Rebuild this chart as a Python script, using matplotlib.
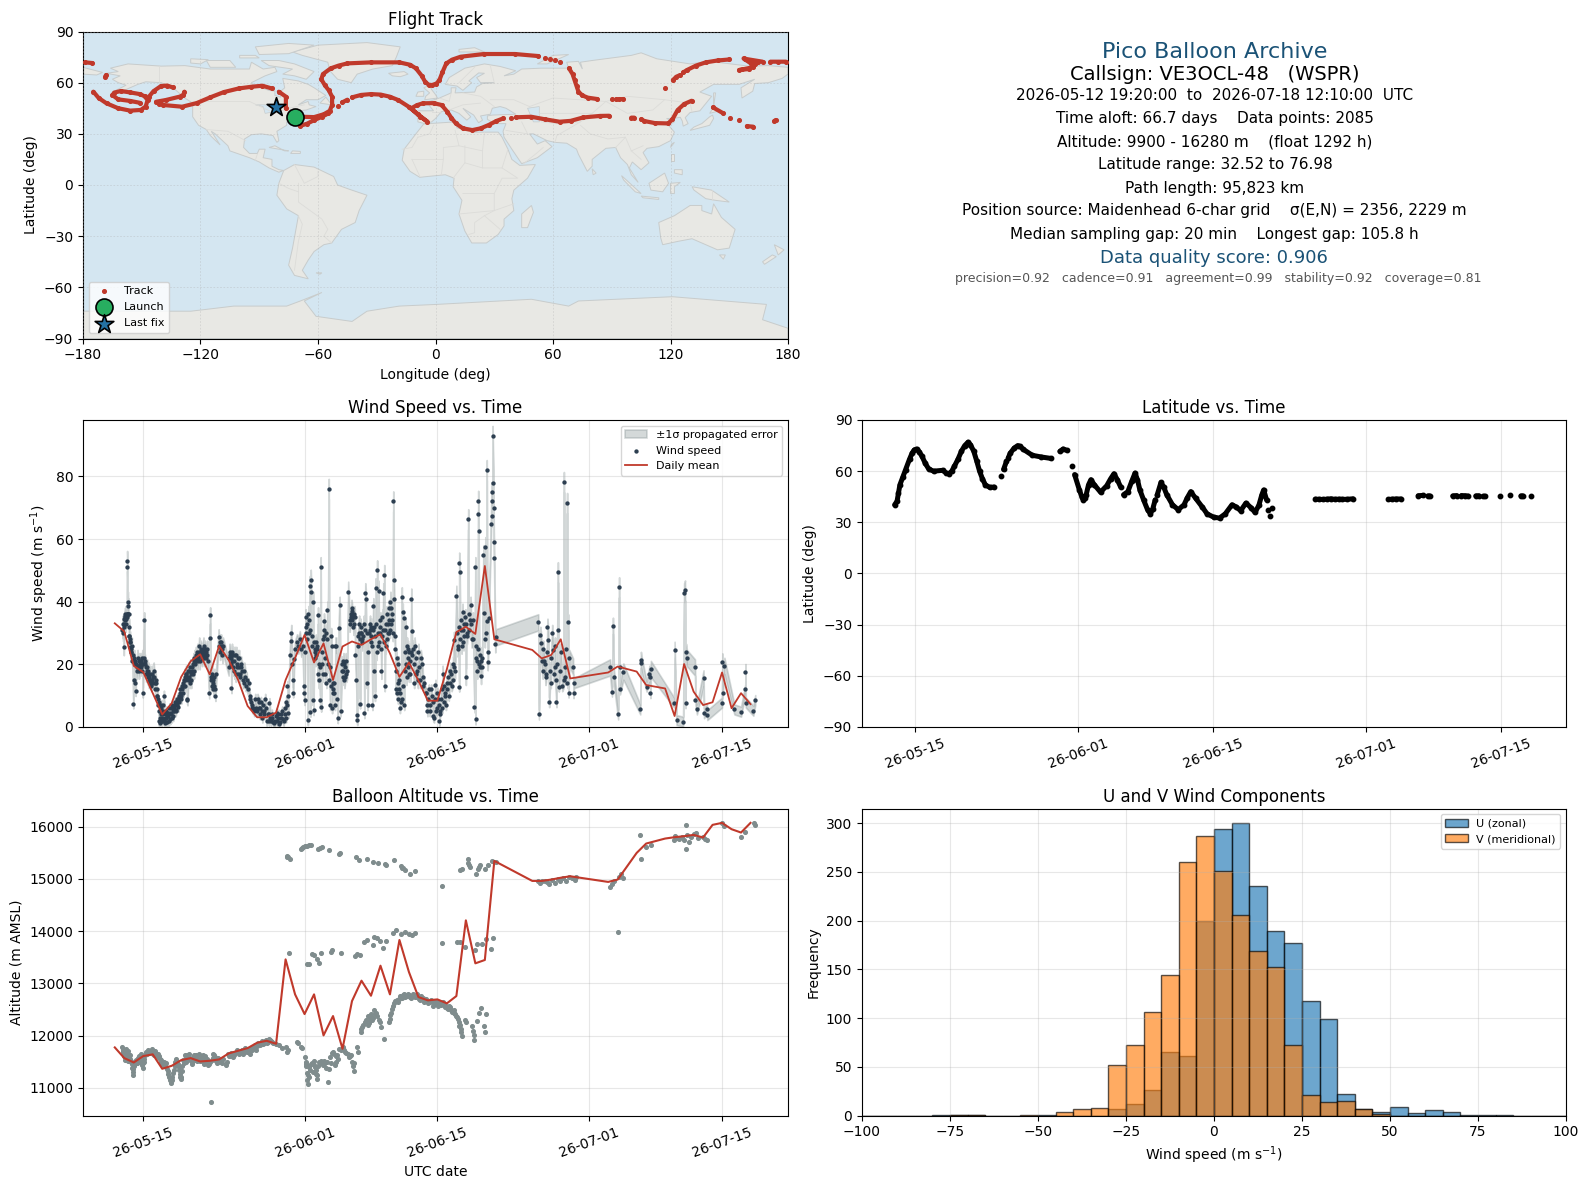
import datetime as dt
import numpy as np
import matplotlib
matplotlib.use("Agg")
import matplotlib.pyplot as plt
import matplotlib.dates as mdates
from matplotlib.patches import Patch

N = float("nan")
W, H = 1590, 1189

# ---------- map outlines (lon, lat) ----------
land_shapes = [
 [(-168,65.5),(-162,66.5),(-166,68.5),(-157,71),(-140,69.7),(-128,70),(-115,68),(-108,68),(-95,68),(-94,72),(-88,68),(-82,69),(-81,66.5),(-87,64),(-94,60),(-93,58.5),(-85,55.5),(-82,55),(-82,52.5),(-79,51.5),(-79,55),(-77,57),(-78,62.5),(-70,61),(-65,59),(-62,57),(-56,52.5),(-60,50),(-66,50),(-70,47),(-65,49),(-64.5,47),(-61,46),(-66,44),(-70,43.5),(-71,41.5),(-74,40.5),(-76,37),(-76,35),(-81,31.5),(-80,26),(-81,25),(-83,29),(-89,30),(-94,29.5),(-97.5,27),(-98,22),(-95,18.5),(-91,18.5),(-90,21),(-87,21),(-88,16),(-83.5,15),(-83.5,11),(-80,9),(-77.5,8.5),(-80,7.5),(-85,10),(-90,13.5),(-95,16),(-105,20),(-106,23),(-112.5,30),(-114.5,31.5),(-110,23.5),(-115,29),(-117,32.5),(-121,35),(-124,40),(-124,48),(-128,51),(-133,56),(-140,60),(-148,60.5),(-152,59),(-158,56),(-165,54.5),(-158,58.5),(-162,60),(-165,62),(-161,64)],
 [(-73,78),(-60,82),(-35,83.5),(-18,81),(-20,75),(-22,70),(-32,68),(-40,65),(-43,60),(-50,62),(-54,67),(-55,72),(-68,76)],
 [(-80,73),(-72,71),(-62,66.5),(-66,62),(-72,64),(-78,65),(-73,68),(-85,70),(-89,73)],
 [(-117,73),(-105,73),(-102,69),(-115,69)],
 [(-90,76.5),(-75,77),(-62,82),(-75,83),(-92,81)],
 [(-125,74),(-116,73.5),(-120,71),(-125,71.5)],
 [(-100,76),(-92,76),(-90,74.5),(-100,74.5)],
 [(-24,65.5),(-16,66.5),(-14,65),(-18,63.5),(-22,64)],
 [(-5.5,50),(1,51),(0,53),(-2,56),(-3,58.5),(-6,57),(-3,54),(-5,52)],
 [(-10,52),(-6,52),(-6,55),(-9,54.5)],
 [(-59,48),(-53,47),(-56,51.5)],
 [(-85,22),(-75,20),(-77,20),(-82,23)],
 [(-74,18.5),(-69,18.5),(-69,19.7),(-73,20)],
 [(-77.5,8.5),(-72,12),(-62,10.5),(-52,5),(-50,0),(-44,-2.5),(-35,-6),(-39,-15),(-41,-22),(-48,-26),(-53,-34),(-57,-35),(-62,-39),(-65,-44),(-68,-50),(-65,-55),(-72,-53),(-75,-47),(-73,-37),(-70,-18),(-76,-14),(-81,-6),(-80,1)],
 [(-6,35.8),(10,37),(11,33.5),(20,31),(32,31),(34,28),(37,21),(39,15),(43,11.5),(51,12),(47,4),(40,-3),(39,-8),(40,-15),(35,-20),(35,-24),(32,-29),(26,-34),(18.5,-34),(15,-27),(12,-17),(13.5,-9),(9,-1),(9.5,4),(5,6),(-4,5),(-8,4.5),(-13,8),(-17,14.5),(-16,21),(-10,30)],
 [(-9,37),(-9,43.5),(-1,43.5),(-4.5,48.5),(2,51),(8,54),(8,57),(10.5,57),(10,54),(20,54.5),(21,57.5),(24,59.5),(30,60),(23,60),(21,63),(25,65.5),(22,65.7),(17,61),(18.5,60),(14,55.5),(11,58),(5,59),(7,63),(15,68.5),(25,71),(33,69.5),(41,67),(35,64),(40,65),(44,68),(54,68.5),(68,68.5),(67,72),(73,72.5),(75,68),(74,72),(80,73),(100,76),(105,77.5),(113,74),(130,71),(140,72.5),(160,69.7),(170,70),(180,69),(180,65),(177,62.5),(170,60),(163,59.5),(162,55),(156.5,51),(156,57),(163,62),(155,59),(142,59),(135,54.5),(141,52),(135,43.5),(130,42.5),(127.5,39.5),(129,36),(126.5,34.5),(126,37.5),(125,39.7),(121,39),(118,39),(122,37),(119,35),(122,31),(120,26),(114,22.5),(108,21.5),(106,19),(109,13),(105,9),(100.5,13.5),(99,10),(103.5,1.5),(100,6),(98,12),(94.5,16),(92,22),(87,21.5),(80,15),(80,11),(77.5,8),(73,18),(72,21),(67,24.5),(61,25),(57,26),(50,30),(48,30),(52,24),(56,26),(59.5,22.5),(52,16),(44,12.5),(39,21),(35,28),(34.5,31.5),(36,36),(30,36),(26.5,38.5),(26.5,40.5),(29,41),(41,41.5),(36,45),(33,46),(29,45),(28,41.5),(23,40.5),(24,38),(22,36.5),(19.5,41),(14,45),(18,40),(16,38),(12,42),(8,44),(3,43),(0,39),(-2,37),(-5.5,36)],
 [(-180,69),(-170,66),(-173,64.5),(-180,65)],
 [(52,71),(57,71),(68,76.5),(60,76)],
 [(12,78),(25,78),(20,80.5),(12,79.5)],
 [(142,46),(143,54),(142,54)],
 [(130,32),(132,34),(136,36),(140,40),(141.5,41),(142,39),(140,35),(135,33.5)],
 [(140,42),(145,43.5),(142,45.5)],
 [(80,9.5),(82,7),(80.5,6)],
 [(120,22),(122,25),(120.5,24)],
 [(120,18),(122,18),(122,14),(120,14)],
 [(122,9),(126,9),(126,6),(122,7)],
 [(109,1),(117,7),(119,1),(116,-4),(110,-3)],
 [(95,5.5),(105,-5),(102,-4),(96,3)],
 [(105,-6.5),(114,-7.5),(114,-8.5),(106,-7.5)],
 [(120,1),(125,1.5),(122,-1),(122,-5),(120,-5)],
 [(131,-1),(141,-3),(150,-10),(143,-9),(138,-8),(132,-3)],
 [(114,-22),(122,-18),(130,-12),(136,-12),(136,-15),(141,-17),(142,-11),(146,-19),(153,-26),(150,-37),(144,-38),(138,-35),(131,-31.5),(124,-33),(116,-35),(115,-31)],
 [(145,-41),(148,-41),(147,-43.5)],
 [(173,-35),(178,-38),(175,-41)],
 [(172,-41),(174,-42),(168,-46.5),(167,-45)],
 [(49,-12),(50,-16),(47,-25),(44,-25),(44,-17)],
 [(-61,-51.5),(-58,-51.5),(-59,-52.3)],
 [(-180,-90),(-180,-74),(-125,-74),(-103,-71),(-76,-71),(-69,-68),(-58,-63),(-67,-68),(-61,-77),(-42.6,-80),(-35,-74),(-18.5,-71),(0.7,-70),(49,-67),(68,-71),(73,-68),(121,-65.5),(169,-70),(167,-79),(180,-84),(180,-90)],
]
lake_shapes = [
 [(47,45),(53,46),(53,37),(50,37)],
 [(-92,47),(-84,47),(-82,43),(-87,42),(-88,46)],
]
border_lines = [
 [(-141,70),(-141,60)],[(-124,49),(-95,49),(-82,42),(-75,45),(-67,47)],[(-117,32.5),(-106,31.5),(-97,26)],
 [(-92,14.5),(-91,18)],[(-70,-18),(-68,-23),(-70,-33),(-72,-50)],[(-70,1),(-70,-10),(-58,-20),(-55,-26),(-57,-30),(-53,-34)],
 [(-72,12),(-67,1),(-60,5),(-60,8)],[(-80,1),(-75,-2),(-70,-4)],
 [(-9,28),(-3,30),(-1,35)],[(-9,28),(-12,22),(-17,21)],[(-12,15),(4,15),(4,22),(12,23),(10,32)],[(12,23),(24,20),(25,31)],
 [(24,20),(24,10),(34,10),(37,21)],[(15,23),(15,13),(24,10)],[(4,15),(3,6)],[(-12,15),(-8,5)],[(9,4),(15,13)],[(14,-5),(30,-5),(30,-15),(12,-17)],
 [(30,-5),(34,4),(42,4),(34,10)],[(40,-11),(30,-15),(25,-18),(20,-22),(20,-28),(17,-29)],[(33,-26),(25,-18)],
 [(-2,43),(3,43)],[(2,51),(7,49),(8,54)],[(14,54),(23,52),(30,46)],[(7,44),(14,47),(23,48)],[(30,60),(28,70)],[(12,60),(20,69)],
 [(28,50),(40,50),(48,46)],[(48,46),(60,51),(87,49),(80,42),(70,42),(53,42)],[(87,49),(98,52),(117,50),(130,48),(131,43)],[(87,49),(98,42),(111,44),(117,50)],
 [(80,42),(74,37),(62,36),(54,37)],[(74,37),(62,29),(61,25)],[(74,35),(79,30),(88,27),(97,28),(92,22)],[(97,28),(100,20),(106,23)],[(100,20),(105,15)],
 [(36,32),(47,30)],[(44,37),(47,30)],[(45,12.5),(52,19),(55,22)],[(44,39),(48,39)],[(141,-3),(141,-9)],
]

# ---------- flight track (lon, lat); nan marks a break ----------
track_fixes = [
 (-68,40),(-62,39.8),(-57,41.5),(-54,43.5),(-52.8,47),(-52.8,51.8),(-54.5,55.5),(-56.5,58.5),(-58.3,62),(-57.5,65),(-53.5,68.4),(-49.5,70),(-45,71.3),(-33,71.9),(-18.5,71.9),(-13,70.5),(-10,68.4),(-7,64),(-5.3,60.5),(-3.5,58.8),(-1.7,58.6),(0.5,59.5),(2,61.5),(3.5,66),(5.5,71.3),(8.5,73.5),(12.8,75.2),(24.8,76.8),(40.5,76.8),(52.5,75.6),(N,N),
 (56,74.5),(N,N),(58.6,73.6),(N,N),(61,73),(N,N),(63.4,71.9),(N,N),(68.2,68.4),(70,65),(71,61.5),(72,58),(73,54.7),(75,52.5),(77.8,51.2),(82.6,50.4),(N,N),
 (89.9,50.2),(N,N),(92.3,50.2),(93.8,50.3),(95.9,50.4),(N,N),(117.1,56.6),(N,N),(121.2,61.5),(123,63.5),(125,64.5),(N,N),(126.5,66),(128.4,67.4),(133,70),(138,71.9),(144,73),(150,73.6),(N,N),
 (157.3,74.2),(161,71.3),(164.6,72.3),(162,69),(155,67.4),(160,68),(163,71),(N,N),(158,74),(167,72.3),(N,N),(171,72.3),(175,72.3),(179,72.3),(N,N),
 (-178.8,71.9),(-175.2,71.5),(N,N),(-168.7,63.5),(-168.2,64.5),(N,N),(-174.7,54.7),(-172,51),(-168,47.9),(-162,45),(-155.9,43.6),(-150.5,44),(-148,46),(-147,49.8),(-148.5,52),(-151,53.3),(-156,54.3),(-160.7,55.1),(-164,54.2),(-165,52.7),(-162,50.2),(-156,49.3),(-151,48.2),(N,N),
 (-146.3,51.8),(-144,55),(-140.2,58),(-137,58.3),(-134.2,57.2),(N,N),(-128.2,54.7),(-128.8,52.8),(-130.6,51.8),(-137.8,49.8),(-142.7,48.8),(-141,47.5),(-139,46.9),(-129.4,45.9),(-122,48),(-115,51.4),(-108,54.5),(-100.5,56.6),(-94,57.6),(-88.4,58.2),(-83.6,56.6),(N,N),(-80,54.7),(-76.4,51.8),(-76.4,44.9),(N,N),
 (-69.2,34.6),(-65.5,36),(-62,38),(-58,40),(-54.7,42),(N,N),(-49.9,46.3),(N,N),(-47.5,48.5),(-45,50),(N,N),(-42.6,51.4),(-38,52.8),(-33,53.3),(-28,53),(-23.4,51.8),(-19,49.8),(-13.7,45.9),(-9,41.5),(-4.1,37.1),(-7.7,40),(-12.5,44.9),(-9.5,46.8),(-6.5,47.9),(-1,48),(3.1,46.9),(6,43),(8,39.5),(10.4,36.1),(14,33.2),(18.8,32.2),(23,33.2),(27.2,35.2),(31,37.5),(34.5,39),(N,N),(38.5,39.5),(N,N),(41,39.7),(48.9,40),(56,38.5),(63.4,37.1),(69,37.6),(75.4,39.6),(84,40.5),(88.7,40.6),(N,N),
 (100,39.5),(101.5,39.5),(N,N),(105,38.5),(106.7,37.5),(112,36.3),(118.8,36.1),(121,38.5),(123.6,43.9),(127,47.5),(130.8,49.4),(N,N),(141.7,45.5),(147,42),(N,N),(150.5,39.5),(N,N),(154.9,38.1),(N,N),(159,34.5),(162.2,34.2),(N,N),(173,37.5),(173.7,38.1),
]
launch_lon, launch_lat = -72, 40
last_lon, last_lat = -81.2, 45.5

# ---------- daily means: day offset from 2026-05-15 ----------
mean_days = list(range(-3, 38)) + [41,42,43,44,45,49,50,52,53] + list(range(55, 65))
wind_mean = [33.1,30.5,19.5,17.5,10.8,4.0,7.6,16,21,23.2,16.8,25.9,21.4,15,6.7,3.1,3.1,4.6,15,22,
 29.4,20.6,26.7,15,25.7,27.3,26.2,28,29.6,23.5,16,20.6,14.8,8.4,8.4,18.5,30.3,
 32,29.7,51.4,28, 24.6,21.9,23,28,15.5, 17.4,19.3, 17.7,13.4,
 12.3,3.5,20.1,11.3,7,7.9,17.4,6,10.8,7.3]
alt_mean = [11773,11568,11485,11607,11640,11364,11421,11530,11568,11504,11517,11543,11658,11709,11760,11862,11900,11843,13458,12788,
 12411,12788,12003,12373,11747,12660,13050,12762,13337,12788,13829,13216,12737,12673,12692,12616,12756,
 14205,13382,13446,15342, 14959,14959,14985,15020,15048, 14940,14985, 15495,15674,
 15770,15796,15815,15840,15790,16032,16070,15949,15885,16070]

# ---------- wind speed readings (day offset, m/s) ----------
wind_readings = [
 (-2.2,31),(-2.12,30),(-2.05,25.5),(-2.0,33),(-1.95,34),(-1.9,35),(-1.85,33),(-1.82,35.5),(-1.78,34.5),(-1.74,36),(-1.7,53),(-1.68,51),(-1.65,36),(-1.62,40),(-1.58,38.5),(-1.55,36),(-1.5,32),(-1.45,29),(-1.4,28),(-1.35,27),(-1.28,25),(-1.2,26),(-1.12,23),(-1.05,7.5),(-1.0,15),(-0.95,22),(-0.85,14),(-0.8,11.5),(-0.75,20),(-0.65,18),(-0.6,22),(-0.5,21),(-0.4,19),(-0.3,20),(-0.2,21),(-0.1,22),(-0.05,11),(0.0,20),(0.1,34),(0.15,21),(0.25,19),(0.35,18),(0.45,17),(0.55,18),(0.65,16),(0.8,15),(0.9,17),(1.0,16),(1.1,18),(1.2,14),(1.3,15),(1.4,12),(1.5,10),(1.6,7),(1.65,2),(1.7,5),(1.78,1.2),(1.85,4),(1.92,7),(2.0,2),(2.1,5),(2.18,10),(2.25,1.4),(2.35,3),(2.45,5),(2.55,1.5),(2.65,3.5),(2.75,6),(2.85,2.5),(2.95,4),(3.05,7),(3.15,3.5),(3.25,5),(3.35,8),(3.45,5.5),(3.55,7),(3.6,9),(3.7,6.5),(3.8,10),(3.9,12),(4.0,9),(4.1,13),(4.2,11),(4.3,15),(4.35,16),(4.45,13),(4.55,17),(4.62,9),(4.66,8.5),(4.72,15),(4.8,18),(4.9,14),(5.0,17),(5.1,19),(5.2,17),(5.3,21),(5.4,22),(5.5,20),(5.6,21),(5.7,24),(5.8,22),(5.9,26),(6.0,23),(6.1,24),(6.2,22),(6.3,25),(6.4,23),(6.5,25),(6.6,24),(6.7,23),(6.8,21),(6.95,10.7),(7.0,28.3),(7.05,35.6),(7.12,16),(7.2,13),(7.3,15),(7.4,12),(7.5,16),(7.6,9.9),(7.7,17),(7.95,28.6),(8.0,26),(8.1,24),(8.2,27),(8.3,25),(8.4,26),(9.0,19),(9.1,24),(9.2,22),(9.3,12.4),(9.4,21),(9.5,23),(9.6,18),(9.8,23),(9.9,20),(10.0,17),(10.1,22),(10.2,16),(10.35,19),(10.5,15),(10.65,18),(10.8,13),(11.0,12),(11.2,10),(11.35,8),(11.5,6),(11.7,5),(11.9,6),(12.05,9),(12.2,6),(12.3,4),(12.4,8),(12.55,3),(12.7,5),(12.85,9),(13.0,2),(13.2,4),(13.3,7.6),(13.45,2),(13.6,3),(13.8,1.2),(13.95,3.5),(14.1,2),(14.25,4),(14.4,1.5),(14.5,3),(14.65,5),(14.8,2),(14.95,6),(15.05,3),(15.2,7),(15.3,4.5),
 (15.05,8),(15.2,13),(15.3,10),(15.45,23),(15.55,27.5),(15.6,30),(15.7,20),(15.75,15),(15.8,11),(15.9,21.6),(16.0,25),(16.2,27),(16.35,26),(16.5,28),(16.65,25),(16.8,26),(16.9,13),(16.95,10.8),(17.0,8.6),(17.05,24),(17.12,35),(17.2,30),(17.28,33),(17.35,2.2),(17.4,36),(17.45,30),(17.55,45),(17.62,4.9),(17.65,47),(17.7,43),(17.78,29),(17.85,8.6),(17.9,40),(17.95,5.4),(18.0,27),(18.1,25),(18.2,23),(18.3,26),(18.4,17),(18.42,35.6),(18.5,15),(18.6,19),(18.65,8.5),(18.7,51),(18.75,6.5),(18.85,20),(18.95,28),(19.05,33.7),(19.15,17),(19.25,30),(19.3,14),(19.4,37.4),(19.45,20),(19.55,76),(19.6,15),(19.7,7),(19.8,29),(19.9,6),(20.0,14),(20.1,11),(20.2,7),(20.35,26),(20.5,2.8),(20.6,31.5),(20.7,39),(20.8,5),(20.9,18),(21.0,16),(21.1,21),(21.2,15),(21.3,19),(21.4,17),(21.6,43.2),(21.75,33),(21.85,36),(21.95,38),(22.05,34),(22.15,32),(22.25,36),(22.35,23),(22.45,15),(22.5,3.8),(22.55,2.2),(22.65,29),(22.75,33),(22.85,7.5),(22.95,30),(23.05,27),(23.2,29),(23.3,4.4),(23.4,42.7),(23.45,41),(23.55,14),(23.65,7),(23.75,30),(23.9,33),(24.0,27),(24.15,7),(24.25,38.5),(24.3,18),(24.35,32),(24.42,9.9),(24.5,44.3),(24.65,50),(24.7,26),(24.8,43.5),(24.9,30),(25.05,25),(25.1,18),(25.2,35),(25.3,42.7),(25.4,48.5),(25.45,13),(25.6,33),(25.75,30),(25.9,38),(26.05,40),(26.15,33),(26.3,30),(26.35,72),(26.38,47),(26.45,41),(26.55,25),(26.6,12),(26.7,22),(26.75,10.7),(26.85,9),(26.95,15),(27.05,6),(27.15,8),(27.25,41.4),(27.35,36.8),(27.45,34.7),(27.55,18),(27.65,32),(27.75,16),(27.85,22),(27.95,19),(28.05,24),(28.15,17),(28.25,41),(28.3,30.5),(28.45,25),(28.55,14),(28.7,22),(28.85,18),(29.0,24),(29.2,15),(29.35,20),(29.5,13),(29.75,11),(29.9,7),(30.05,9),(30.2,5),(30.35,12),(30.5,8),(30.65,3),(30.8,13.5),(30.95,6),(31.1,9),(31.2,2),(31.3,5),(31.45,12),(31.55,17),(31.7,8),(31.85,11),(32.0,14),(32.2,10),(32.35,18),(32.5,13),(32.65,20),(32.75,27.8),(32.85,18),(33.0,41.9),(33.1,30),(33.2,26),(33.3,12.9),(33.3,52.5),(33.35,49.6),(33.5,31),(33.65,36.8),(33.75,27),(33.85,33),(34.0,16),(34.1,29),(34.25,66.3),(34.35,31),(34.5,39),(34.6,28),(34.75,34),(34.9,6.3),(35.0,51),(35.02,2.4),(35.1,22),(35.2,18),(35.3,72.2),(35.32,68),(35.34,62.5),(35.4,20),(35.5,23),(35.6,16.3),(35.7,19),(35.85,54.8),(35.95,36.3),(36.05,57.4),(36.2,82),(36.25,33.7),(36.3,20.7),(36.4,34.7),(36.65,64.9),(36.72,75),(36.75,72.2),(36.78,67.2),(36.82,92.9),(36.9,77.9),(36.92,69.9),(36.95,59),(36.97,53.9),(37.1,26.4),(37.15,28.6),
 (41.63,33.4),(41.7,4),(41.85,29.4),(41.95,26.7),(42.1,18),(42.25,21),(42.4,16),(42.6,32),(42.7,27.8),(42.78,7.9),(42.9,18),(43.1,30),(43.2,24.6),(43.35,19.3),(43.55,7.9),(43.7,49.4),(43.75,31),(43.8,12.9),(44.3,15),(44.33,78.2),(44.67,71.5),(44.78,33.4),(44.82,11),(45.3,19.3),(45.35,10.8),(45.4,14),
 (49.2,19),(49.4,11.3),(49.5,32.3),(49.6,16),(50.05,4),(50.15,44.6),(50.2,19.3),(50.25,12),(50.6,17.7),(52.38,5.6),(52.45,21.4),(52.5,20.3),(53.05,12.9),(53.35,17),(53.42,16),(53.45,10.8),(53.5,18.5),(55.95,7.8),(56.0,24.6),(56.2,2.2),(56.9,1.7),(57.0,42.7),(57.1,43.6),(57.15,7.6),(57.2,24),(57.3,22),(58.15,19),(58.2,8.6),(58.35,5.6),(59.05,15.5),(59.1,4.4),(59.4,5.6),(59.45,3.8),(61.0,7.8),(61.03,20.9),(61.05,10.8),(61.25,19.5),(62.3,5.6),(63.0,4.9),(63.45,12),(63.47,17.5),(63.5,7.8),(64.3,5.2),(64.5,8.6),
]
wind_readings_dense = [
 (-2.15,33),(-2.08,32),(-1.98,34.5),(-1.92,35.5),(-1.88,36),(-1.8,35),(-1.76,36),(-1.72,35),(-1.6,36),(-1.52,29),(-1.42,27),(-1.38,25.5),(-1.32,24),(-1.25,24),(-1.15,21),(-0.92,20),(-0.88,21),(-0.7,19),(-0.55,19.5),(-0.45,18),(-0.35,21),(-0.25,19),(-0.15,20),(-0.08,18),(0.05,22),(0.2,20),(0.3,17),(0.4,19),(0.5,16),(0.6,15),(0.7,17),(0.75,14),(0.85,13),(0.95,15),(1.05,14),(1.15,16),(1.25,12),(1.35,14),(1.45,10),(1.55,9),(1.62,8),(1.72,3),(1.82,6),(1.88,2),(1.95,4),(2.05,7),(2.12,3),(2.22,2),(2.3,4),(2.4,1.5),(2.5,3.5),(2.6,4.5),(2.7,2),(2.8,4.5),(2.9,6),(3.0,3),(3.1,5),(3.2,6),(3.3,7),(3.4,5),(3.5,8),(3.65,9),(3.75,8),(3.85,11),(3.95,10),(4.05,12),(4.15,14),(4.25,13),(4.4,15),(4.5,17),(4.6,16),(4.75,18),(4.85,16),(4.95,19),(5.05,15),(5.15,18),(5.25,20),(5.35,18),(5.45,21),(5.55,23),(5.65,22),(5.75,21),(5.85,24),(5.95,21),(6.05,25),(6.15,23),(6.25,24),(6.35,26),(6.45,22),(6.55,24),(6.65,22),(6.75,25),(7.15,15),(7.25,17),(7.35,14),(7.45,13),(7.55,12),(8.05,27),(8.15,25),(8.25,26),(8.35,23),(9.05,22),(9.15,23),(9.25,20),(9.35,24),(9.45,19),(9.55,21),(9.65,23),(9.75,17),(9.85,19),(9.95,22),(10.05,19),(10.15,17),(10.3,20),(10.45,18),(10.6,14),(10.75,16),(10.9,15),(11.1,14),(11.25,9),(11.45,7),(11.6,6),(11.8,9),(12.0,5),(12.15,8),(12.35,6),(12.5,5),(12.65,7),(12.75,4),(12.95,6),(13.1,4),(13.25,2),(13.4,3),(13.55,4),(13.7,1.5),(13.9,2),(14.05,4.5),(14.2,3),(14.35,1),(14.55,4),(14.7,2.5),(14.9,4),
 (29.85,11),(29.95,5),(30.1,12),(30.25,7),(30.4,10),(30.55,3.5),(30.7,9),(30.85,5),(31.0,11),(31.15,7),(31.25,4),(31.35,9),(31.5,6),(31.65,13),(31.75,10),(31.9,7),(32.05,12),(32.15,16),(32.3,14),(32.45,17),(32.6,15),(32.7,19),
 (17.15,32),(17.25,28),(17.5,34),(17.6,31),(17.75,26),(18.05,24),(18.15,22),(18.25,27),(18.35,25),(18.55,20),(18.8,24),(18.9,17),(19.0,29),(19.1,31),(19.2,22),(19.35,28),(19.65,19),(19.75,13),(19.85,26),(19.95,11),(20.05,12),(20.15,14),(20.25,26),(20.45,9),(20.95,20),(21.05,18),(21.15,20),(21.25,16),(21.35,21),(21.5,18),(21.8,34),(21.9,35),(22.0,37),(22.1,35),(22.2,33),(22.3,35),(22.6,26),(22.7,30),(22.8,28),(22.9,32),(23.0,30),(23.1,28),(23.25,33),(23.35,31),(23.6,30),(23.7,24),(23.85,31),(23.95,29),(24.05,32),(24.1,26),(24.2,31),(24.4,29),(24.55,33),(24.6,24),(24.75,30),(24.85,27),(24.95,32),(25.0,34),(25.15,29),(25.25,31),(25.35,27),(25.5,31),(25.55,26),(25.65,36),(25.7,28),(25.8,33),(25.85,30),(25.95,34),(26.0,31),(26.1,38),(26.2,36),(26.25,34),(26.5,29),(26.65,18),(26.8,14),(26.9,20),(27.0,12),(27.1,11),(27.3,9),(27.4,13),(27.5,7),(27.6,24),(27.7,20),(27.8,26),(27.9,25),(28.0,17),(28.1,21),(28.2,24),(28.35,23),(28.5,20),(28.6,26),(28.75,17),(28.95,15),(29.1,19),(29.25,22),(29.45,16),(29.6,14),
 (33.15,25),(33.25,32),(33.4,28),(33.45,34),(33.55,26),(33.7,31),(33.8,29),(33.95,35),(34.05,33),(34.15,30),(34.3,36),(34.45,34),(34.55,33),(34.7,28),(35.05,26),(35.15,21),(35.25,25),(35.45,19),(35.55,21),(35.65,22),(36.0,28),(36.15,30),(36.35,24),
 (42.0,21),(42.15,25),(42.3,20),(42.45,17),(42.55,24),(42.95,14),(43.0,22),(43.25,17),(43.4,26),(43.45,15),(43.6,20),(43.9,18),(44.0,24),(44.15,13),(44.4,19),(44.5,16),(44.6,25),(44.7,14),(44.9,22),
]
# error half-width by speed class
sigma_speed_edges = [15, 40]
sigma_levels = [1.6, 2.6, 3.2]

# ---------- latitude readings (day offset, deg); nan marks a break ----------
lat_readings = [
 (-2.15,40.3),(-1.9,42.3),(-1.75,47),(-1.6,52),(-1.3,56.5),(-1,60.9),(-0.6,67),(-0.33,70.6),(-0.1,72.5),(0.14,73),(0.4,71.5),(0.7,68.7),(1.05,64.5),(1.4,61.3),(1.9,60),(2.87,60.5),(3.2,59),(3.5,58.5),(3.8,60),(4.07,62.8),(4.45,67),(4.8,71.6),(5.15,75),(5.5,77),(5.75,75.5),(6.1,71.6),(6.4,66),(6.7,60),(7.0,55.5),(7.3,52),(7.75,50.5),(8.2,50.7),(N,N),
 (8.9,57),(N,N),(9.2,61),(9.5,65.7),(N,N),(9.7,68),(9.9,70.6),(10.3,73.5),(10.67,75),(10.95,74.5),(11.2,73),(12.2,69.3),(13.15,68.3),(14.1,67.5),(N,N),
 (15.07,71.6),(15.4,73),(15.8,72.2),(N,N),(16.3,63.2),(N,N),(16.6,58),(17.1,49),(17.35,45),(17.5,43.2),(17.65,44),(17.8,46),(18.05,52),(18.3,55),(18.66,52),(19.3,47.7),(19.95,51.5),(20.35,55.5),(20.7,58.5),(21.05,55),(21.4,50.7),(N,N),
 (21.7,46.2),(22.15,48),(22.55,54),(22.9,58.9),(23.15,55),(23.4,49),(23.8,43),(24.2,37.4),(24.5,35),(24.75,38),(25,43.2),(N,N),(25.2,46),(25.6,53.4),(25.9,50.5),(26.2,46.2),(26.8,40.3),(27.4,37.4),(28,40.3),(28.35,44.5),(28.7,48),(29.2,44.2),(29.9,39),(30.4,35),(31.1,33),(31.7,32.5),(32.3,35),(33,40.3),(33.45,39),(33.9,36.8),(34.45,41.3),(35,38.5),(35.4,35.8),(35.8,40),(36.1,46),(36.3,49),(36.6,43.2),(N,N),
 (36.75,37.4),(N,N),(36.95,33.9),(N,N),(37.2,38.4),(N,N),
 (41.7,43.6),(42.1,43.5),(42.5,43.4),(42.9,43.6),(43.3,43.8),(43.7,43.5),(44.1,43.6),(44.5,43.5),(45,43.5),(45.6,43.8),(N,N),
 (49.3,43.4),(49.7,43.6),(50.1,43.7),(50.6,43.7),(N,N),(52.4,45.6),(52.9,45.8),(N,N),(53.4,45.5),(53.6,45.5),(N,N),(56,45.5),(56.4,45.7),(N,N),(56.9,45.7),(57.3,45.6),(57.6,45.4),(N,N),(58.4,45.5),(58.7,45.6),(N,N),(59.2,45.3),(59.4,45.3),(N,N),
 (60.9,45.3),(N,N),(62,46),(N,N),(63.1,45.5),(63.3,45.5),(N,N),(64.2,45.4),
]

# ---------- altitude readings (day offset, m AMSL) ----------
alt_readings = [
 (-2.2,11790),(-2.15,11740),(-2.1,11680),(-2.0,11640),(-1.9,11580),(-1.85,11740),(-1.75,11660),(-1.7,11560),(-1.6,11700),(-1.55,11620),(-1.45,11540),(-1.35,11620),(-1.25,11500),(-1.15,11380),(-1.1,11300),(-1.05,11250),(-1.0,11420),(-0.9,11500),(-0.8,11530),(-0.7,11470),(-0.6,11570),(-0.5,11500),(-0.4,11600),(-0.3,11550),(-0.2,11640),(-0.1,11430),(0,11380),(0.1,11560),(0.25,11680),(0.45,11700),(0.6,11660),(0.75,11710),(0.9,11740),(1.05,11650),(1.25,11700),(1.45,11620),(1.6,11640),(1.75,11560),(1.9,11500),(2.05,11440),(2.2,11500),(2.35,11470),(2.5,11360),(2.65,11260),(2.8,11150),(2.95,11090),(3.05,11200),(3.2,11350),(3.35,11500),(3.5,11560),(3.65,11460),(3.8,11340),(3.9,11200),(4.0,11170),(4.1,11420),(4.2,11540),(4.35,11620),(4.5,11500),(4.65,11580),(4.8,11650),(5.0,11560),(5.15,11460),(5.35,11620),(5.5,11580),(5.7,11520),(5.85,11640),(6.05,11600),(6.2,11510),(6.4,11450),(6.55,11600),(6.7,11560),(6.85,11430),(7.0,11500),(7.1,10725),(7.2,11540),(7.35,11640),(7.55,11580),(7.75,11480),(7.9,11570),(8.1,11530),(8.3,11470),(8.7,11440),(8.9,11640),(9.1,11610),(9.3,11660),(9.5,11580),(9.7,11660),(9.9,11720),(10.1,11640),(10.3,11700),(10.5,11640),(10.7,11760),(10.9,11680),(11.1,11740),(11.3,11650),(11.5,11720),(11.7,11790),(11.9,11730),(12.1,11860),(12.3,11810),(12.5,11890),(12.7,11860),(12.9,11920),(13.1,11880),(13.3,11930),(13.5,11890),(13.7,11850),(14.0,11840),(14.3,11810),
 (14.6,11770),(15.0,11780),(15.1,11690),(15.3,11730),(16.2,11880),(16.3,11850),(16.6,11790),(16.7,11760),(17.0,11590),(17.1,11500),(17.2,11420),(17.25,11280),(17.3,11150),(17.4,11080),(17.5,11400),(17.6,11350),(17.8,11480),(17.95,11520),(18.1,11400),(18.25,11270),(18.3,11170),(18.5,11500),(18.7,11520),(18.9,11440),(19.0,11520),(19.5,11120),(19.6,11360),(19.8,11480),(19.9,11660),(20.05,11680),(20.2,11430),(20.35,11600),(20.5,11560),(20.8,11720),(21.0,11780),(21.2,11720),(21.4,11660),(21.7,11590),(21.9,11620),(22.2,11330),(22.25,11480),(22.5,11780),(22.6,11680),(22.9,12060),(23.0,12130),(23.1,12170),(23.5,12300),(23.7,12200),(23.9,12290),(24.05,12420),(24.2,12330),(24.35,12480),(24.55,12430),(24.8,12300),(25.05,12160),(25.4,11940),(25.85,12260),(26.05,12320),(26.15,12440),(26.3,12560),(26.4,12620),(26.6,12670),(26.85,12640),(27.1,12750),(27.3,12710),(27.5,12790),(27.75,12760),(28.0,12770),(28.25,12710),(28.45,12800),(28.65,12730),(28.9,12790),(29.1,12700),(29.3,12750),(29.55,12650),(29.8,12700),(30.05,12620),(30.3,12680),(30.55,12570),(30.75,12650),(30.95,12640),(31.2,12600),(31.4,12580),(31.6,12640),(31.85,12550),(32.1,12500),(32.3,12540),(32.55,12450),(32.8,12490),(33.0,12370),(33.15,12310),(33.3,12180),(33.45,12130),(33.6,11990),(33.9,12290),(34.0,12250),(34.65,12190),(34.8,12090),(34.85,11920),(34.9,12010),(35.2,12280),(35.35,12440),(35.6,12530),(35.95,12190),(36.0,12070),(36.1,12410),
 (15.1,15436),(15.3,15410),(15.5,15378),(16.6,15577),(16.8,15609),(17.3,15630),(17.7,15640),(18.4,15577),(18.8,15600),(19.6,15545),(20.65,15468),(22.4,15410),(22.75,15352),(23.55,15370),(24.25,15320),(24.75,15308),(25.5,15275),(26.4,15365),(27.2,15237),(27.6,15173),(28.1,15096),(28.6,15141),(31.5,14865),(33.4,15160),(33.6,15192),(34.2,15370),(34.4,15224),(35.1,15096),(35.25,15192),(35.5,15256),(36.0,15190),(36.3,15256),(36.8,15340),(37.15,15330),
 (15.2,15420),(16.7,15590),(17.0,15620),(17.5,15650),(18.6,15590),(20.7,15490),(25.6,15260),(27.3,15210),(27.4,15200),(34.25,15300),(34.3,15260),(35.4,15230),
 (15.35,13585),(17.25,13375),(17.45,13365),(17.75,13560),(18.0,13550),(18.35,13460),(18.55,13390),(18.7,13585),(19.75,13600),(19.9,13630),(20.87,13580),(22.3,13520),(22.55,13560),(22.8,13540),(23.3,13790),(23.6,13830),(24.3,13885),(24.65,13860),(24.25,13730),(24.9,13810),(25.3,13680),(25.6,13810),(26.35,13960),(26.65,14020),(27.2,13945),(27.6,13990),(28.0,13945),(28.35,13930),(28.65,13960),
 (31.5,13770),(33.1,13785),(33.4,13785),(33.9,13695),(34.95,13645),(35.15,13745),(35.75,13745),(36.1,13840),(36.7,13660),(36.9,13865),
 (41.6,14960),(41.8,14920),(42.0,14950),(42.3,14960),(42.5,14930),(42.8,14900),(43.1,14970),(43.4,14920),(43.7,15000),(43.95,14960),(44.2,15010),(44.6,14960),(44.9,15040),(45.2,15020),(45.45,14980),(45.6,15040),
 (49.2,14840),(49.35,14900),(49.6,14950),(50.05,13985),(50.1,15040),(50.3,15100),(50.55,15020),(52.4,15846),(52.5,15385),(53.0,15610),(53.5,15640),
 (55.9,15750),(56.0,15820),(56.2,15780),(56.5,15770),(56.8,15800),(57.0,15740),(57.2,16025),(57.25,15577),(57.3,15840),(57.5,15700),(57.7,15800),(58.0,15850),(58.3,15880),(58.5,15780),(59.0,15800),(59.2,15760),(59.4,15740),(61.0,16060),(61.2,16010),(63.0,15800),(63.45,15900),(64.35,16070),(64.5,16030),
]
alt_readings_dense = [
 (-2.12,11700),(-2.02,11600),(-1.92,11540),(-1.8,11600),(-1.65,11520),(-1.5,11590),(-1.4,11560),(-1.3,11520),(-1.2,11450),(-1.12,11360),(-0.95,11450),(-0.85,11480),(-0.75,11520),(-0.65,11480),(-0.55,11530),(-0.45,11560),(-0.35,11500),(-0.25,11600),(-0.15,11520),(-0.05,11470),(0.05,11500),(0.18,11620),(0.35,11640),(0.55,11720),(0.68,11700),(0.85,11680),(1.0,11700),(1.15,11620),(1.35,11650),(1.55,11590),(1.7,11600),(1.85,11540),(2.0,11480),(2.15,11450),(2.3,11420),(2.45,11400),(2.6,11320),(2.75,11200),(2.88,11120),(3.0,11150),(3.15,11280),(3.3,11420),(3.45,11520),(3.6,11500),(3.75,11400),(3.85,11260),(3.95,11210),(4.05,11320),(4.25,11480),(4.45,11560),(4.6,11620),(4.75,11600),(4.9,11530),(5.1,11500),(5.25,11590),(5.45,11530),(5.6,11620),(5.8,11560),(5.95,11520),(6.15,11570),(6.3,11620),(6.5,11530),(6.65,11480),(6.8,11520),(6.95,11450),(7.3,11570),(7.45,11620),(7.65,11520),(7.85,11500),(8.0,11550),(8.2,11500),(8.4,11560),(8.8,11500),(9.0,11600),(9.2,11650),(9.4,11620),(9.6,11620),(9.8,11690),(10.0,11680),(10.2,11660),(10.4,11720),(10.6,11690),(10.8,11700),(11.0,11720),(11.2,11700),(11.4,11760),(11.6,11760),(11.8,11820),(12.0,11800),(12.2,11840),(12.4,11860),(12.6,11840),(12.8,11900),(13.0,11860),(13.2,11890),(13.4,11910),(13.6,11870),
 (17.15,11460),(17.35,11240),(17.45,11200),(17.7,11460),(17.85,11300),(18.0,11440),(18.2,11350),(18.35,11240),(18.45,11420),(18.65,11470),(18.8,11500),(19.1,11460),(19.25,11380),(19.4,11500),(19.7,11580),(20.1,11650),(20.3,11500),(20.45,11620),(20.65,11740),(20.9,11750),(21.1,11750),(21.3,11680),(21.55,11640),(21.8,11600),(22.05,11500),(22.15,11420),
 (23.2,12200),(23.35,12250),(23.65,12380),(23.8,12240),(24.0,12350),(24.15,12300),(24.45,12420),(24.65,12380),(24.9,12250),(26.0,12400),(26.25,12500),(26.5,12660),(26.75,12680),(27.0,12700),(27.2,12740),(27.4,12770),(27.6,12740),(27.9,12790),(28.1,12730),(28.35,12760),(28.55,12760),(28.8,12730),(29.0,12750),(29.2,12680),(29.45,12720),(29.7,12680),(29.95,12660),(30.2,12640),(30.4,12660),(30.65,12620),(30.85,12600),(31.05,12560),(31.3,12620),(31.5,12600),(31.75,12590),(32.0,12520),(32.2,12560),(32.45,12480),(32.7,12430),(32.9,12420),(33.1,12350),(33.25,12250),(33.4,12200),(33.5,12060),
]

# ---------- histogram counts per 5 m/s bin (left edge) ----------
bin_edges = list(range(-100, 100, 5))
u_counts = {-80:1,-75:1,-70:1,-50:1,-30:7,-25:11.5,-20:26.5,-15:65,-10:61,-5:199.5,0:293.5,5:300,10:235,15:189,20:177,25:117,30:99.5,35:22.5,40:7,45:3.4,50:9,55:3,60:6,65:4,70:1,75:1,80:1}
v_counts = {-75:1,-70:1,-55:1,-45:4,-40:7,-35:7.5,-30:52,-25:72,-20:106,-15:144,-10:260,-5:287,0:251,5:206,10:169,15:152,20:72,25:21,30:14,35:15,40:7,45:2}

title_lines = ["Pico Balloon Archive", "Callsign: VE3OCL-48   (WSPR)", "2026-05-12 19:20:00  to  2026-07-18 12:10:00  UTC",
 "Time aloft: 66.7 days    Data points: 2085", "Altitude: 9900 - 16280 m    (float 1292 h)", "Latitude range: 32.52 to 76.98",
 "Path length: 95,823 km", "Position source: Maidenhead 6-char grid    σ(E,N) = 2356, 2229 m", "Median sampling gap: 20 min    Longest gap: 105.8 h",
 "Data quality score: 0.906", "precision=0.92   cadence=0.91   agreement=0.99   stability=0.92   coverage=0.81"]

RED = "#c0392b"; NAVY = "#2c3e50"; GREY = "#7f8c8d"; BLUE = "#1a5276"

def make_axes(x0, x1, y0, y1):
    return fig.add_axes([x0 / W, 1 - y1 / H, (x1 - x0) / W, (y1 - y0) / H])

base = mdates.date2num(dt.datetime(2026, 5, 15))
def days(seq):
    return base + np.asarray(seq, dtype=float)

fig = plt.figure(figsize=(W / 100, H / 100), dpi=100)
L0, L1, R0, R1 = 83, 788, 862, 1566
ax_map = make_axes(L0, L1, 31.5, 338.5)
ax_wind = make_axes(L0, L1, 420, 727)
ax_alt = make_axes(L0, L1, 808.5, 1115.5)
ax_lat = make_axes(R0, R1, 420, 727)
ax_hist = make_axes(R0, R1, 808.5, 1115.5)

# map
ax_map.set_facecolor("#d4e6f1")
for shape in land_shapes:
    xs, ys = zip(*shape)
    ax_map.fill(xs, ys, facecolor="#e8e8e4", edgecolor="#c8cccc", lw=0.7, zorder=1)
for shape in lake_shapes:
    xs, ys = zip(*shape)
    ax_map.fill(xs, ys, facecolor="#d4e6f1", edgecolor="#c8cccc", lw=0.5, zorder=1.1)
for line in border_lines:
    xs, ys = zip(*line)
    ax_map.plot(xs, ys, color="#dcdcd9", lw=0.6, zorder=1.2)
track_lon = [p[0] for p in track_fixes]; track_lat = [p[1] for p in track_fixes]
ax_map.plot(track_lon, track_lat, color=RED, lw=3.0, zorder=3, solid_capstyle="round", solid_joinstyle="round")
ax_map.scatter(track_lon, track_lat, s=7, color=RED, zorder=3, label="Track")
ax_map.scatter([launch_lon], [launch_lat], s=150, color="#27ae60", edgecolor="k", lw=1.2, zorder=5, label="Launch")
ax_map.scatter([last_lon], [last_lat], s=200, marker="*", color="#2471a3", edgecolor="k", lw=1.2, zorder=6, label="Last fix")
ax_map.set_xlim(-180, 180); ax_map.set_ylim(-90, 90)
ax_map.set_xticks(range(-180, 181, 60)); ax_map.set_yticks(range(-90, 91, 30))
ax_map.set_xticklabels(["\u2212180","\u2212120","\u221260","0","60","120","180"])
ax_map.set_yticklabels(["\u221290","\u221260","\u221230","0","30","60","90"])
ax_map.grid(True, alpha=0.4, lw=0.6, ls=(0, (2, 2)))
ax_map.set_axisbelow(False)
ax_map.set_xlabel("Longitude (deg)"); ax_map.set_ylabel("Latitude (deg)")
ax_map.set_title("Flight Track", fontsize=12, pad=5)
ax_map.legend(loc="lower left", fontsize=8, labelspacing=0.55)

# info panel
ys = [51.7, 75, 96, 119, 142.4, 165, 188.4, 211, 234, 258.4, 279]
xs = [1215, 1215, 1215, 1215, 1215, 1215, 1215, 1214, 1214, 1214, 1218.5]
sizes = [16, 14, 11, 11, 11, 11, 11, 11, 11, 13, 9]
colors = [BLUE, "k", "k", "k", "k", "k", "k", "k", "k", BLUE, "#555555"]
for txt, x, y, fs, col in zip(title_lines, xs, ys, sizes, colors):
    fig.text(x / W, 1 - y / H, txt, fontsize=fs, color=col, ha="center", va="center")

# wind
wind = sorted(wind_readings + wind_readings_dense, key=lambda r: r[0])
wt = days([r[0] for r in wind]); wv = np.array([r[1] for r in wind], dtype=float)
ws = np.array(sigma_levels)[np.digitize(wv, sigma_speed_edges)]
ax_wind.fill_between(wt, np.maximum(wv - ws, 0), wv + ws, facecolor=GREY, edgecolor=GREY, alpha=0.33, lw=1.2, label="\u00b11\u03c3 propagated error")
ax_wind.scatter(wt, wv, s=4.5, color=NAVY, zorder=3, label="Wind speed")
ax_wind.plot(days(mean_days), wind_mean, color=RED, lw=1.3, zorder=4, label="Daily mean")
ax_wind.set_ylim(0, 98)
ax_wind.set_ylabel("Wind speed (m s$^{-1}$)")
ax_wind.set_title("Wind Speed vs. Time", fontsize=12, pad=5)
ax_wind.legend(loc="upper right", fontsize=8)

# latitude
lat_t = [p[0] for p in lat_readings]; lat_v = [p[1] for p in lat_readings]
ax_lat.plot(days(lat_t), lat_v, color="k", lw=3.6, marker="o", ms=3.2, solid_capstyle="round", solid_joinstyle="round", zorder=3)
ax_lat.set_ylim(-90, 90); ax_lat.set_yticks(range(-90, 91, 30))
ax_lat.set_yticklabels(["\u221290","\u221260","\u221230","0","30","60","90"])
ax_lat.set_ylabel("Latitude (deg)")
ax_lat.set_title("Latitude vs. Time", fontsize=12, pad=5)

# altitude
alt_all = alt_readings + alt_readings_dense
at = days([r[0] for r in alt_all]); av = [r[1] for r in alt_all]
ax_alt.scatter(at, av, s=7, color=GREY, zorder=3)
ax_alt.plot(days(mean_days), alt_mean, color=RED, lw=1.5, zorder=4)
ax_alt.set_ylim(10470, 16345)
ax_alt.set_yticks(range(11000, 16001, 1000))
ax_alt.set_ylabel("Altitude (m AMSL)")
ax_alt.set_xlabel("UTC date")
ax_alt.set_title("Balloon Altitude vs. Time", fontsize=12, pad=5)

# histogram
u_h = [u_counts.get(e, 0) for e in bin_edges]
v_h = [v_counts.get(e, 0) for e in bin_edges]
ax_hist.bar(bin_edges, u_h, width=5, align="edge", color="#1f77b4", alpha=0.65, edgecolor="k", lw=1)
ax_hist.bar(bin_edges, v_h, width=5, align="edge", color="#ff7f0e", alpha=0.65, edgecolor="k", lw=1)
ax_hist.set_xlim(-100, 100); ax_hist.set_ylim(0, 315)
ax_hist.set_xticks(range(-100, 101, 25))
ax_hist.set_xticklabels(["\u2212100","\u221275","\u221250","\u221225","0","25","50","75","100"])
ax_hist.set_yticks(range(0, 301, 50))
ax_hist.grid(True, alpha=0.3)
ax_hist.set_xlabel("Wind speed (m s$^{-1}$)"); ax_hist.set_ylabel("Frequency")
ax_hist.set_title("U and V Wind Components", fontsize=12, pad=5)
ax_hist.legend(handles=[Patch(facecolor="#1f77b4", alpha=0.65, edgecolor="k", label="U (zonal)"),
                        Patch(facecolor="#ff7f0e", alpha=0.65, edgecolor="k", label="V (meridional)")],
               loc="upper right", fontsize=8)

# time axes
tick_dates = [mdates.date2num(dt.datetime(2026, m, d)) for m, d in [(5,15),(6,1),(6,15),(7,1),(7,15)]]
for ax, lim in ((ax_wind, (-6.35, 67.95)), (ax_alt, (-6.35, 67.95)), (ax_lat, (-5.55, 67.8))):
    ax.set_xlim(days(lim))
    ax.set_xticks(tick_dates)
    ax.xaxis.set_major_formatter(mdates.DateFormatter("%y-%m-%d"))
    ax.tick_params(axis="x", labelrotation=20)
    ax.grid(True, alpha=0.3)

fig.savefig("out.png", dpi=100)
